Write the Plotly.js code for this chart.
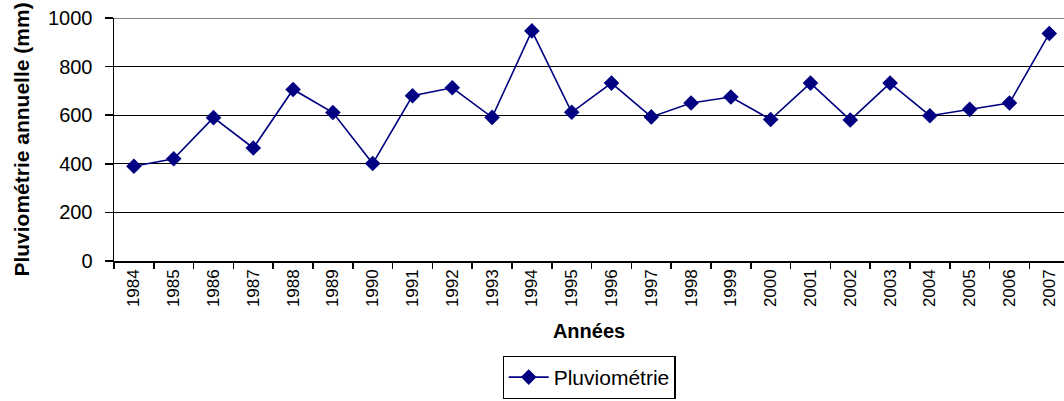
<!DOCTYPE html>
<html>
<head>
<meta charset="utf-8">
<script src="https://cdn.plot.ly/plotly-3.0.1.min.js"></script>
<style>
html, body { margin: 0; padding: 0; background: #fff; overflow: hidden; }
#chart { width: 1064px; height: 401px; }
</style>
</head>
<body>
<div id="chart"></div>
<script>
const years = ["1984","1985","1986","1987","1988","1989","1990","1991","1992","1993","1994","1995","1996","1997","1998","1999","2000","2001","2002","2003","2004","2005","2006","2007"];
const rainfall = [390, 421, 590, 465, 706, 611, 401, 680, 713, 591, 947, 612, 732, 593, 650, 675, 582, 732, 580, 732, 598, 624, 650, 936];
const yTicks = [0, 200, 400, 600, 800, 1000];
const seriesName = "Pluviométrie";
const xTitle = "Années";
const yTitle = "Pluviométrie annuelle (mm)";

const FONT = "Liberation Sans, Arial, sans-serif";

const trace = {
  type: "scatter",
  mode: "lines+markers",
  x: years,
  y: rainfall,
  name: seriesName,
  line: { color: "#000080", width: 1.6 },
  marker: { symbol: "diamond", size: 12, color: "#000080" },
  showlegend: true,
  cliponaxis: false
};

const layout = {
  width: 1064,
  height: 401,
  margin: { l: 114, r: 0, t: 18, b: 140, autoexpand: false },
  paper_bgcolor: "#ffffff",
  plot_bgcolor: "#ffffff",
  font: { family: FONT, color: "#000" },
  showlegend: true,
  xaxis: {
    type: "category",
    range: [-0.5, 23.37],
    automargin: false,
    showgrid: false,
    zeroline: false,
    showline: true,
    linecolor: "#000",
    linewidth: 1.5,
    ticks: "outside",
    tickson: "boundaries",
    ticklen: 6,
    tickwidth: 1.5,
    tickcolor: "#000",
    tickangle: -90,
    tickfont: { size: 17, family: FONT, color: "#000" },
    title: { text: xTitle, font: { size: 20, weight: "bold", family: FONT, color: "#000" }, standoff: 18 },
    fixedrange: true
  },
  yaxis: {
    range: [0, 1000],
    automargin: false,
    tickvals: yTicks,
    ticktext: yTicks.map(String),
    showgrid: true,
    gridcolor: "#000",
    gridwidth: 1.3,
    zeroline: false,
    showline: true,
    linecolor: "#000",
    linewidth: 1.5,
    ticks: "outside",
    ticklen: 8,
    tickwidth: 1.5,
    tickcolor: "#000",
    ticklabelstandoff: 8,
    tickfont: { size: 20, family: FONT, color: "#000" },
    title: { text: yTitle, font: { size: 21, weight: "bold", family: FONT, color: "#000" }, standoff: 12 },
    fixedrange: true
  },
  shapes: [{
    type: "line", xref: "paper", yref: "y", x0: 0, x1: 1, y0: 1000, y1: 1000,
    line: { color: "#808080", width: 2 }, layer: "below"
  }],
  legend: {
    x: 0.5, xanchor: "center",
    y: -0.39, yanchor: "top",
    bordercolor: "#000", borderwidth: 1.2,
    bgcolor: "#fff",
    font: { size: 21, family: FONT, color: "#000" },
    itemwidth: 40
  }
};

Plotly.newPlot("chart", [trace], layout, { displayModeBar: false, staticPlot: true });
</script>
</body>
</html>
